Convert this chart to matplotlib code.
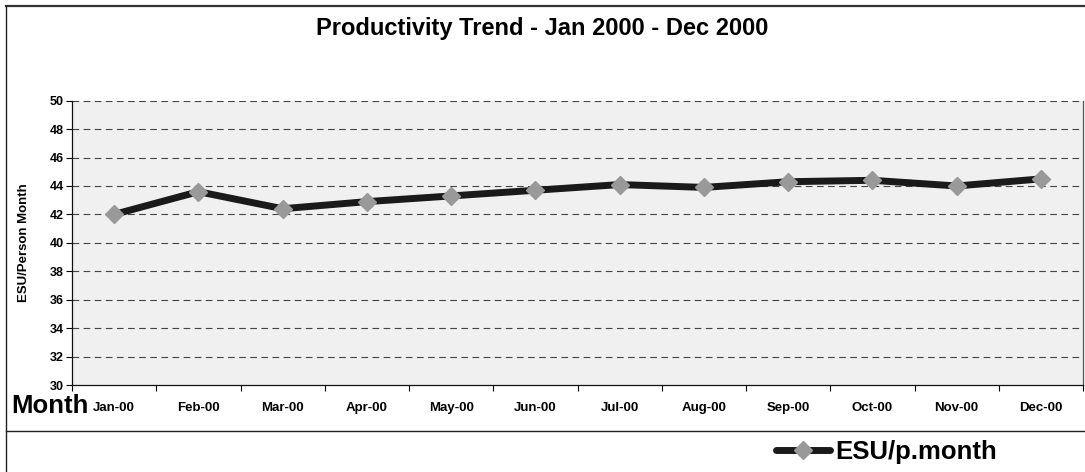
import matplotlib.pyplot as plt
from matplotlib.lines import Line2D

plt.rcParams['font.family'] = ['Liberation Sans', 'DejaVu Sans']

months = ['Jan-00', 'Feb-00', 'Mar-00', 'Apr-00', 'May-00', 'Jun-00',
          'Jul-00', 'Aug-00', 'Sep-00', 'Oct-00', 'Nov-00', 'Dec-00']
esu = [42.0, 43.6, 42.4, 42.9, 43.3, 43.7, 44.1, 43.9, 44.3, 44.4, 44.0, 44.5]

W, H = 1085, 472
fig = plt.figure(figsize=(W / 100, H / 100), dpi=100)
ax = fig.add_axes([72 / W, 1 - 385 / H, (1083 - 72) / W, (385 - 100.7) / H])
ax.set_facecolor('#f0f0f0')

x = list(range(len(months)))
ax.plot(x, esu, color='#1a1a1a', lw=5, marker='D', markersize=9.5,
        markerfacecolor='#999999', markeredgecolor='#999999', zorder=3,
        solid_capstyle='round', label='ESU/p.month')

ax.set_xlim(-0.5, len(months) - 0.5)
ax.set_ylim(30, 50)
ax.set_yticks(range(30, 51, 2))
# category boundaries get the tick marks, centres get the labels
ax.set_xticks([i + 0.5 for i in range(-1, len(months))], minor=False)
ax.set_xticklabels([])
ax.set_xticks(x, minor=True)
ax.set_xticklabels(months, minor=True, fontsize=9.5, fontweight='bold')
ax.tick_params(axis='x', which='minor', length=0, pad=12)
ax.tick_params(axis='x', which='major', length=4, width=0.8, direction='out')
ax.tick_params(axis='y', length=4, width=0.8, labelsize=9, pad=2)
for lab in ax.get_yticklabels():
    lab.set_fontweight('bold')

for v in range(32, 51, 2):
    ax.axhline(v, color='#444444', lw=0.8, ls=(0, (6, 4)), zorder=1)

ax.spines['top'].set_visible(False)
for s in ('left', 'bottom', 'right'):
    ax.spines[s].set_color('#111111')
    ax.spines[s].set_linewidth(0.9)
ax.spines['right'].set_color('#555555')

ax.set_ylabel('ESU/Person Month', fontsize=9.5, fontweight='bold', labelpad=14)

fig.text(0.5, 1 - 29 / H, 'Productivity Trend - Jan 2000 - Dec 2000',
         ha='center', va='center', fontsize=17, fontweight='bold')
fig.text(11 / W, 1 - 413 / H, 'Month', ha='left', va='baseline',
         fontsize=18.5, fontweight='bold')

# outer frame lines
fig.add_artist(Line2D([6 / W, 1], [1 - 6 / H, 1 - 6 / H], color='#333333', lw=1.6))
fig.add_artist(Line2D([6 / W, 6 / W], [0, 1 - 6 / H], color='#222222', lw=1.0))
fig.add_artist(Line2D([6 / W, 1], [1 - 431 / H, 1 - 431 / H], color='#222222', lw=1.0))

fig.legend(loc='center left', bbox_to_anchor=(776 / W, 1 - 452 / H), frameon=False,
           prop={'size': 18.5, 'weight': 'bold'}, handlelength=2.1, handletextpad=0.2,
           borderaxespad=0, borderpad=0)

fig.savefig('out.png', dpi=100)
